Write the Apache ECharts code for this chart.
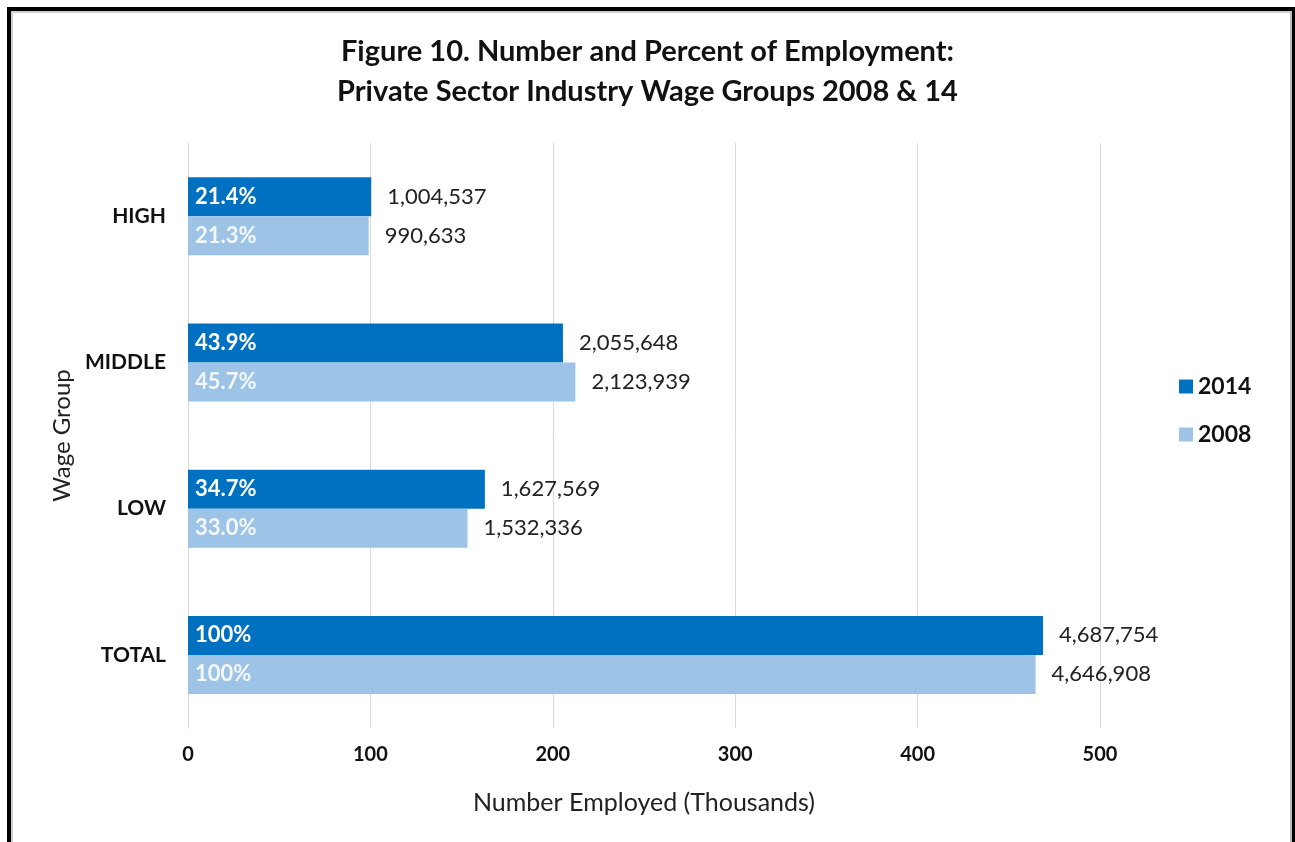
<!DOCTYPE html>
<html>
<head>
<meta charset="utf-8">
<script src="https://cdn.jsdelivr.net/npm/echarts@6/dist/echarts.min.js"></script>
<style>
html,body{margin:0;padding:0;background:#fff;}
#chart{width:1295px;height:842px;}
</style>
</head>
<body>
<div id="chart"></div>
<script>
const titleLines = ['Figure 10. Number and Percent of Employment:', 'Private Sector Industry Wage Groups 2008 & 14'];
const categories = ['HIGH', 'MIDDLE', 'LOW', 'TOTAL'];
const years = ['2014', '2008'];
const employed2014 = [1004537, 2055648, 1627569, 4687754];
const employed2008 = [990633, 2123939, 1532336, 4646908];
const pct2014 = ['21.4%', '43.9%', '34.7%', '100%'];
const pct2008 = ['21.3%', '45.7%', '33.0%', '100%'];
const xTicks = [0, 100, 200, 300, 400, 500];
const xAxisName = 'Number Employed (Thousands)';
const yAxisName = 'Wage Group';

const FONT = 'Lato';
const C2014 = '#0070C0';
const C2008 = '#9DC3E6';
const scale = 10000;

function barSeries(name, data, pcts, color, labelColor) {
  return {
    name: name, type: 'bar', stack: 'stack_' + name,
    data: data,
    itemStyle: {color: color},
    barWidth: 39, barGap: '0%',
    label: {
      show: true, position: 'insideLeft', distance: 7,
      color: labelColor, fontFamily: FONT, fontWeight: 'bold', fontSize: 22,
      formatter: p => pcts[p.dataIndex]
    }
  };
}
function countSeries(name, data) {
  return {
    name: name + ' count', type: 'bar', stack: 'stack_' + name,
    data: data.map(() => 0),
    itemStyle: {color: 'transparent'},
    barWidth: 39, barGap: '0%',
    silent: true,
    label: {
      show: true, position: 'right', distance: 16,
      color: '#222', fontFamily: FONT, fontSize: 22,
      formatter: p => data[p.dataIndex].toLocaleString('en-US')
    }
  };
}

const chart = echarts.init(document.getElementById('chart'), null, {renderer: 'canvas'});
chart.setOption({
  backgroundColor: '#fff',
  animation: false,
  title: {
    text: titleLines.join('\n'),
    left: 'center', top: 27,
    textStyle: {fontFamily: FONT, fontWeight: 'bold', fontSize: 29, lineHeight: 40, color: '#111'}
  },
  legend: {
    data: years,
    orient: 'vertical',
    left: 1174, top: 370,
    itemWidth: 14, itemHeight: 14, itemGap: 25,
    icon: 'rect',
    textStyle: {fontFamily: FONT, fontWeight: 'bold', fontSize: 23, color: '#111'}
  },
  grid: {left: 188, right: 195, top: 143, bottom: 114, containLabel: false},
  xAxis: {
    type: 'value', min: 0, max: xTicks[xTicks.length - 1] * scale, interval: 100 * scale,
    name: xAxisName, nameLocation: 'middle', nameGap: 62,
    nameTextStyle: {fontFamily: FONT, fontSize: 25, color: '#222'},
    axisLine: {show: false}, axisTick: {show: false},
    axisLabel: {
      margin: 17, fontFamily: FONT, fontWeight: 'bold', fontSize: 20, color: '#111',
      formatter: v => String(v / scale)
    },
    splitLine: {show: true, lineStyle: {color: '#D9D9D9', width: 1}}
  },
  yAxis: {
    type: 'category', data: categories, inverse: true,
    name: yAxisName, nameLocation: 'middle', nameGap: 112, nameRotate: 90,
    nameTextStyle: {fontFamily: FONT, fontSize: 24, color: '#222'},
    axisLine: {show: true, lineStyle: {color: '#D9D9D9'}}, axisTick: {show: false},
    axisLabel: {margin: 22, fontFamily: FONT, fontWeight: 'bold', fontSize: 21, color: '#111'}
  },
  series: [
    barSeries('2014', employed2014, pct2014, C2014, '#fff'),
    countSeries('2014', employed2014),
    barSeries('2008', employed2008, pct2008, C2008, '#F4F8FC'),
    countSeries('2008', employed2008)
  ],
  graphic: [
    {type: 'rect', shape: {x: 7, y: 7, width: 4, height: 840}, style: {fill: '#000'}, silent: true},
    {type: 'rect', shape: {x: 7, y: 7, width: 1290, height: 4}, style: {fill: '#000'}, silent: true},
    {type: 'rect', shape: {x: 11, y: 11, width: 2, height: 835}, style: {fill: '#D0D0D0'}, silent: true},
    {type: 'rect', shape: {x: 11, y: 11, width: 1280, height: 2}, style: {fill: '#D0D0D0'}, silent: true},
    {type: 'rect', shape: {x: 1290, y: 11, width: 2, height: 835}, style: {fill: '#BDBDBD'}, silent: true},
    {type: 'rect', shape: {x: 1292, y: 7, width: 3, height: 840}, style: {fill: '#000'}, silent: true}
  ]
});
</script>
</body>
</html>
